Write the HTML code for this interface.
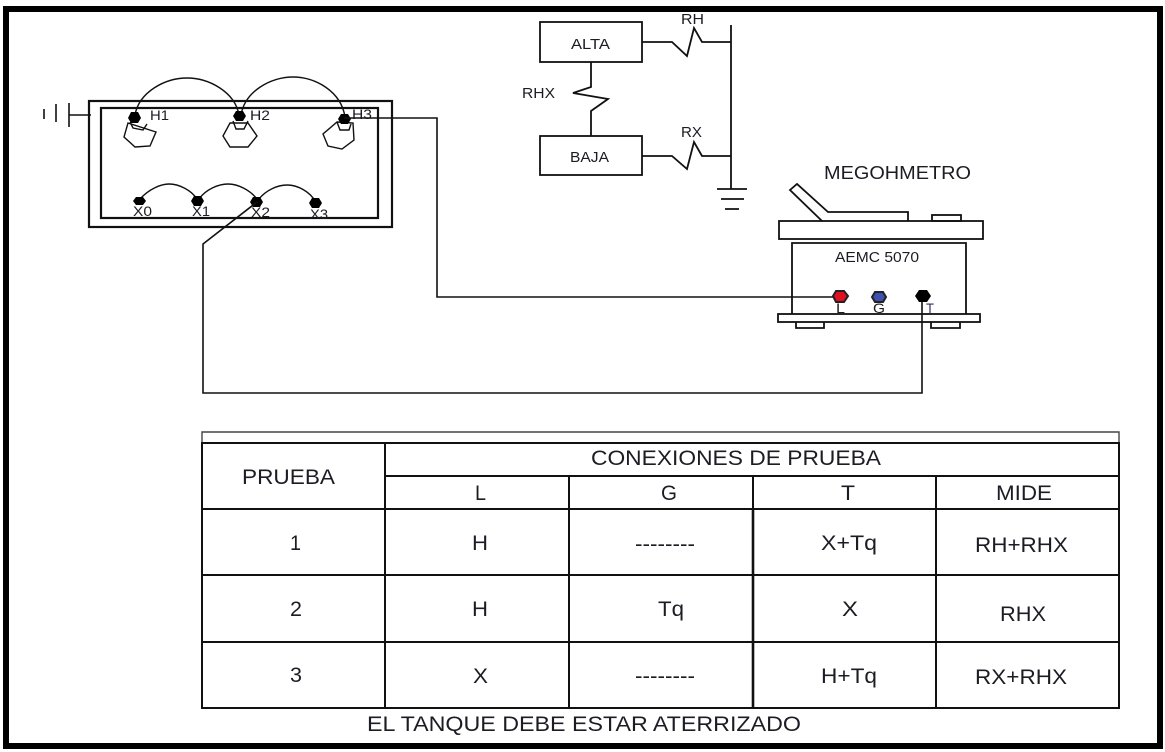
<!DOCTYPE html>
<html><head><meta charset="utf-8"><style>
html,body{margin:0;padding:0;background:#fff;width:1165px;height:752px;overflow:hidden}
svg{display:block}
text{font-family:"Liberation Sans",sans-serif;fill:#1c1c24}
</style></head><body>
<svg width="1165" height="752" viewBox="0 0 1165 752" xmlns="http://www.w3.org/2000/svg">
<rect width="1165" height="752" fill="#fff"/>
<rect x="6" y="9" width="1154" height="737" fill="none" stroke="#000" stroke-width="6"/>

<!-- transformer -->
<g fill="none" stroke="#111" stroke-width="2">
<rect x="89" y="101" width="303" height="126" stroke-width="2.2"/>
<rect x="101" y="108" width="277" height="110" stroke-width="2.2"/>
<path d="M44 109V119M56 104V122M69 103V127M69 115H91" stroke-width="1.6"/>
</g>
<g fill="none" stroke="#111" stroke-width="1.4">
<path d="M135 115C139 92 165 78 187 78C209 78 235 92 239 115"/>
<path d="M241 115C245 91 271 77 293 77C315 77 341 91 345 117"/>
<path d="M140 199C149 189 161 184 169 184C179 184 191 190 197 199"/>
<path d="M199 199C206 189 219 184 228 184C238 184 250 190 257 199"/>
<path d="M259 199C266 190 278 185 287 185C298 185 310 192 315 201"/>
<path d="M128 123L156 132L150 146L135 147L124 137Z"/>
<path d="M130 122L133 128L143 130L147 124"/>
<path d="M230 123H248L257 136L248 147H230L223 136Z"/>
<path d="M233 121L236 129H244L248 121"/>
<path d="M337 122L353 123L354 140L342 149L328 146L323 134Z"/>
<path d="M337 122L340 130H349L351 124"/>
</g>
<g fill="#000">
<polygon points="128,118 131,112 138,112 141,118 138,123 131,123"/>
<polygon points="233,116 236,111 243,111 246,116 243,121 236,121"/>
<polygon points="338,119 341,114 348,114 351,119 348,124 341,124"/>
<polygon points="133,201 136,197 143,197 146,201 143,205 136,205"/>
<polygon points="191,201 194,196 201,196 204,201 201,206 194,206"/>
<polygon points="250,202 253,197 260,197 263,202 260,207 253,207"/>
<polygon points="309,203 312,198 319,198 322,203 319,208 312,208"/>
</g>
<text x="150" y="120" font-size="14" textLength="19" lengthAdjust="spacingAndGlyphs">H1</text>
<text x="250" y="120" font-size="14" textLength="20" lengthAdjust="spacingAndGlyphs">H2</text>
<text x="352" y="119" font-size="14" textLength="20" lengthAdjust="spacingAndGlyphs">H3</text>
<text x="133" y="216" font-size="14" textLength="19" lengthAdjust="spacingAndGlyphs">X0</text>
<text x="192" y="216" font-size="14" textLength="18" lengthAdjust="spacingAndGlyphs">X1</text>
<text x="251" y="217" font-size="14" textLength="19" lengthAdjust="spacingAndGlyphs">X2</text>
<text x="310" y="219" font-size="14" textLength="18" lengthAdjust="spacingAndGlyphs">X3</text>

<!-- wires -->
<g fill="none" stroke="#111" stroke-width="1.6">
<path d="M344 118H437V297H835"/>
<path d="M922 296V393H203V244L257 202"/>
</g>

<!-- schematic -->
<g fill="none" stroke="#111" stroke-width="1.8">
<rect x="540" y="22" width="102" height="40"/>
<rect x="540" y="136" width="102" height="39"/>
<path d="M642 42H672L687 56L694 28L702 42H731"/>
<path d="M642 156H672L687 169L694 142L702 156H731"/>
<path d="M591 62V87L573 93L608 99L591 111V136"/>
<path d="M731 25V189"/>
<path d="M717 189H747M721 199H744M725 209H739"/>
</g>
<text x="571" y="49" font-size="14.5" textLength="39" lengthAdjust="spacingAndGlyphs">ALTA</text>
<text x="570" y="162" font-size="14.5" textLength="39" lengthAdjust="spacingAndGlyphs">BAJA</text>
<text x="681" y="24" font-size="14.5" textLength="23" lengthAdjust="spacingAndGlyphs">RH</text>
<text x="681" y="137" font-size="14.5" textLength="21" lengthAdjust="spacingAndGlyphs">RX</text>
<text x="522" y="98" font-size="14.5" textLength="33" lengthAdjust="spacingAndGlyphs">RHX</text>

<!-- meter -->
<text x="824" y="179" font-size="18.5" textLength="147" lengthAdjust="spacingAndGlyphs">MEGOHMETRO</text>
<g fill="none" stroke="#111" stroke-width="1.8">
<path d="M822 221L790 190L797 184L828 212H908V221"/>
<rect x="932" y="215" width="29" height="6"/>
<rect x="779" y="221" width="204" height="18"/>
<path d="M792 314V243H966V314"/>
<rect x="778" y="314" width="202" height="8"/>
<path d="M796 322V328H824V322M931 322V328H960V322"/>
</g>
<text x="835" y="262" font-size="14.5" textLength="84" lengthAdjust="spacingAndGlyphs">AEMC 5070</text>
<polygon points="833,296 836,291 844,291 848,296 844,302 836,302" fill="#e01020" stroke="#222" stroke-width="2"/>
<polygon points="872,297 875,292 883,292 886,297 883,302 875,302" fill="#4050b0" stroke="#222" stroke-width="2"/>
<polygon points="915,296 919,290 927,290 931,296 927,302 919,302" fill="#000"/>
<text x="836" y="313" font-size="14" textLength="9" lengthAdjust="spacingAndGlyphs">L</text>
<text x="873" y="313" font-size="14" textLength="12" lengthAdjust="spacingAndGlyphs">G</text>
<text x="926" y="313" font-size="14" textLength="8" lengthAdjust="spacingAndGlyphs" style="fill:#303060">T</text>

<!-- table -->
<g fill="none" stroke="#111">
<path d="M202 443V432H1119V443" stroke-width="1.4" stroke="#444"/>
<rect x="202" y="443" width="917" height="265" stroke-width="2"/>
<path d="M385 443V708M569 476V708M753 476V708M936 476V708" stroke-width="2"/>
<path d="M753 510V708" stroke-width="2.6"/>
<path d="M385 476H1119M202 509H1119M202 575H1119M202 642H1119" stroke-width="2"/>
</g>
<g font-size="21.5">
<text x="242" y="484" textLength="93" lengthAdjust="spacingAndGlyphs">PRUEBA</text>
<text x="591" y="465" textLength="290" lengthAdjust="spacingAndGlyphs">CONEXIONES DE PRUEBA</text>
<text x="475" y="500" textLength="11" lengthAdjust="spacingAndGlyphs">L</text>
<text x="661" y="500" textLength="16" lengthAdjust="spacingAndGlyphs">G</text>
<text x="841" y="500" textLength="14" lengthAdjust="spacingAndGlyphs">T</text>
<text x="996" y="500" textLength="56" lengthAdjust="spacingAndGlyphs">MIDE</text>
<text x="290" y="550" textLength="11" lengthAdjust="spacingAndGlyphs">1</text>
<text x="290" y="616" textLength="12" lengthAdjust="spacingAndGlyphs">2</text>
<text x="290" y="682" textLength="12" lengthAdjust="spacingAndGlyphs">3</text>
<text x="472" y="550" textLength="16" lengthAdjust="spacingAndGlyphs">H</text>
<text x="472" y="616" textLength="16" lengthAdjust="spacingAndGlyphs">H</text>
<text x="473" y="683" textLength="15" lengthAdjust="spacingAndGlyphs">X</text>
<text x="635" y="551" textLength="60" lengthAdjust="spacingAndGlyphs">--------</text>
<text x="658" y="616" textLength="26" lengthAdjust="spacingAndGlyphs">Tq</text>
<text x="635" y="683" textLength="60" lengthAdjust="spacingAndGlyphs">--------</text>
<text x="821" y="550" textLength="56" lengthAdjust="spacingAndGlyphs">X+Tq</text>
<text x="842" y="616" textLength="16" lengthAdjust="spacingAndGlyphs">X</text>
<text x="821" y="683" textLength="56" lengthAdjust="spacingAndGlyphs">H+Tq</text>
<text x="975" y="552" textLength="93" lengthAdjust="spacingAndGlyphs">RH+RHX</text>
<text x="1000" y="621" textLength="46" lengthAdjust="spacingAndGlyphs">RHX</text>
<text x="975" y="684" textLength="92" lengthAdjust="spacingAndGlyphs">RX+RHX</text>
<text x="367" y="731" textLength="434" lengthAdjust="spacingAndGlyphs">EL TANQUE DEBE ESTAR ATERRIZADO</text>
</g>
</svg>
</body></html>
